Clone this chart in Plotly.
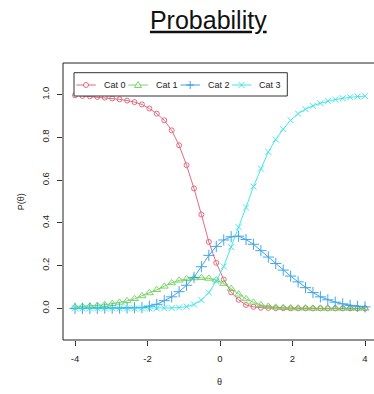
import plotly.graph_objects as go

# ---- data ----
theta = [-4.000, -3.795, -3.590, -3.385, -3.179, -2.974, -2.769, -2.564, -2.359, -2.154,
         -1.949, -1.744, -1.538, -1.333, -1.128, -0.923, -0.718, -0.513, -0.308, -0.103,
         0.103, 0.308, 0.513, 0.718, 0.923, 1.128, 1.333, 1.538, 1.744, 1.949,
         2.154, 2.359, 2.564, 2.769, 2.974, 3.179, 3.385, 3.590, 3.795, 4.000]

cat0 = [0.997, 0.994, 0.992, 0.989, 0.986, 0.982, 0.978, 0.972, 0.965, 0.954,
        0.935, 0.911, 0.880, 0.833, 0.763, 0.670, 0.561, 0.439, 0.311, 0.213,
        0.135, 0.075, 0.040, 0.016, 0.007, 0.003, 0.002, 0.001, 0.001, 0.000,
        0.000, 0.000, 0.000, 0.000, 0.000, 0.000, 0.000, 0.000, 0.000, 0.000]

cat1 = [0.006, 0.008, 0.010, 0.013, 0.017, 0.022, 0.028, 0.035, 0.045, 0.058,
        0.072, 0.087, 0.103, 0.119, 0.131, 0.138, 0.142, 0.143, 0.140, 0.132,
        0.116, 0.092, 0.066, 0.044, 0.028, 0.016, 0.009, 0.005, 0.003, 0.002,
        0.001, 0.001, 0.000, 0.000, 0.000, 0.000, 0.000, 0.000, 0.000, 0.000]

cat2 = [0.000, 0.000, 0.000, 0.000, 0.001, 0.001, 0.001, 0.002, 0.003, 0.004,
        0.010, 0.019, 0.036, 0.054, 0.078, 0.108, 0.145, 0.195, 0.248, 0.290,
        0.320, 0.335, 0.338, 0.322, 0.300, 0.270, 0.240, 0.210, 0.179, 0.151,
        0.124, 0.097, 0.074, 0.054, 0.040, 0.029, 0.021, 0.014, 0.010, 0.007]

cat3 = [0.000, 0.000, 0.000, 0.000, 0.000, 0.000, 0.000, 0.000, 0.000, 0.000,
        0.000, 0.000, 0.001, 0.002, 0.004, 0.008, 0.018, 0.039, 0.074, 0.128,
        0.196, 0.287, 0.380, 0.472, 0.570, 0.654, 0.732, 0.790, 0.839, 0.880,
        0.911, 0.932, 0.948, 0.960, 0.970, 0.977, 0.983, 0.988, 0.991, 0.993]

series_names = ["Cat 0", "Cat 1", "Cat 2", "Cat 3"]
x_ticks = [-4, -2, 0, 2, 4]
y_ticks = [0.0, 0.2, 0.4, 0.6, 0.8, 1.0]

# ---- styling ----
colors = ["#DF536B", "#61D04F", "#2297E6", "#28E2E5"]
symbols = ["circle-open", "triangle-up-open", "cross-thin-open", "x-thin-open"]
msizes = [5, 7, 8, 6]
FONT = "Liberation Sans, Arial, sans-serif"

W, H = 374, 394
L, R, T, B = 63, 0, 63, 54
PW, PH = W - L - R, H - T - B


def px_x(px):
    return (px - L) / PW


def px_y(py):
    return (H - B - py) / PH


fig = go.Figure()
for name, ys, c, s, ms in zip(series_names, [cat0, cat1, cat2, cat3], colors, symbols, msizes):
    fig.add_trace(go.Scatter(
        x=theta, y=ys, name=name, mode="lines+markers",
        line=dict(color=c, width=1),
        marker=dict(symbol=s, size=ms, color=c, line=dict(color=c, width=1)),
        opacity=0.85, showlegend=False,
    ))

shapes = []
annotations = []
# plot frame (right side falls outside the picture, as in the reference)
shapes.append(dict(type="rect", xref="paper", yref="paper", x0=0, x1=px_x(376.5), y0=0, y1=1,
                   line=dict(color="#222", width=1), layer="above"))

# custom legend
shapes.append(dict(type="rect", xref="paper", yref="paper",
                   x0=px_x(74), x1=px_x(287.3), y0=px_y(96), y1=px_y(72.7),
                   line=dict(color="#333", width=1), fillcolor="white", layer="above"))
starts = [76.3, 128.3, 180.5, 231.8]
ly = 85
for i, (name, c) in enumerate(zip(series_names, colors)):
    s = starts[i]
    shapes.append(dict(type="line", xref="paper", yref="paper",
                       x0=px_x(s), x1=px_x(s + 19.5), y0=px_y(ly), y1=px_y(ly),
                       line=dict(color=c, width=1), opacity=0.85, layer="above"))
    cx, cy = px_x(s + 9.7), px_y(ly)
    base = dict(xref="paper", yref="paper", xsizemode="pixel", ysizemode="pixel",
                xanchor=cx, yanchor=cy, line=dict(color=c, width=1), opacity=0.85, layer="above")
    if i == 0:
        shapes.append(dict(type="circle", x0=-2.5, x1=2.5, y0=-2.5, y1=2.5, fillcolor="white", **base))
    elif i == 1:
        shapes.append(dict(type="path", path="M -3.5,-2.5 L 3.5,-2.5 L 0,3.5 Z", fillcolor="white", **base))
    elif i == 2:
        shapes.append(dict(type="line", x0=-4, x1=4, y0=0, y1=0, **base))
        shapes.append(dict(type="line", x0=0, x1=0, y0=-4, y1=4, **base))
    else:
        shapes.append(dict(type="line", x0=-3, x1=3, y0=-3, y1=3, **base))
        shapes.append(dict(type="line", x0=-3, x1=3, y0=3, y1=-3, **base))
    annotations.append(dict(text=name, xref="paper", yref="paper", x=px_x(s + 25.5), y=px_y(ly),
                            xanchor="left", yanchor="middle", showarrow=False,
                            font=dict(family=FONT, size=9, color="#222")))

# axis titles
annotations.append(dict(text="θ", xref="paper", yref="paper", x=px_x(219.5), y=px_y(382),
                        xanchor="center", yanchor="middle", showarrow=False,
                        font=dict(family=FONT, size=9, color="#222")))
annotations.append(dict(text="P(θ)", xref="paper", yref="paper", x=px_x(20.7), y=0.5,
                        xanchor="center", yanchor="middle", showarrow=False, textangle=-90,
                        font=dict(family=FONT, size=9, color="#222")))

x0 = -4 - (75 - L) / 36.25
fig.update_layout(
    width=W, height=H,
    margin=dict(l=L, r=R, t=T, b=B, pad=0),
    paper_bgcolor="white", plot_bgcolor="white",
    title=dict(text="<u>Probability</u>", x=208.3 / W, xref="container", xanchor="center",
               y=1 - 20 / H, yref="container", yanchor="middle",
               font=dict(family=FONT, size=25, color="#111")),
    xaxis=dict(range=[x0, x0 + PW / 36.25], tickvals=x_ticks, ticktext=[str(v) for v in x_ticks],
               ticks="outside", ticklen=5, tickwidth=1, tickcolor="#333",
               showgrid=False, zeroline=False, showline=False,
               ticklabelstandoff=5,
               tickfont=dict(family=FONT, size=9.5, color="#222")),
    yaxis=dict(range=[-0.148, 1.148], tickvals=y_ticks, ticktext=["%.1f" % v for v in y_ticks],
               ticks="outside", ticklen=5, tickwidth=1, tickcolor="#333", tickangle=-90,
               showgrid=False, zeroline=False, showline=False,
               ticklabelstandoff=4,
               tickfont=dict(family=FONT, size=9.5, color="#222")),
    shapes=shapes, annotations=annotations, showlegend=False,
)

fig.write_html("out.html", config={"displayModeBar": False},
               post_script="document.body.style.margin='0';document.body.style.overflow='hidden';")
